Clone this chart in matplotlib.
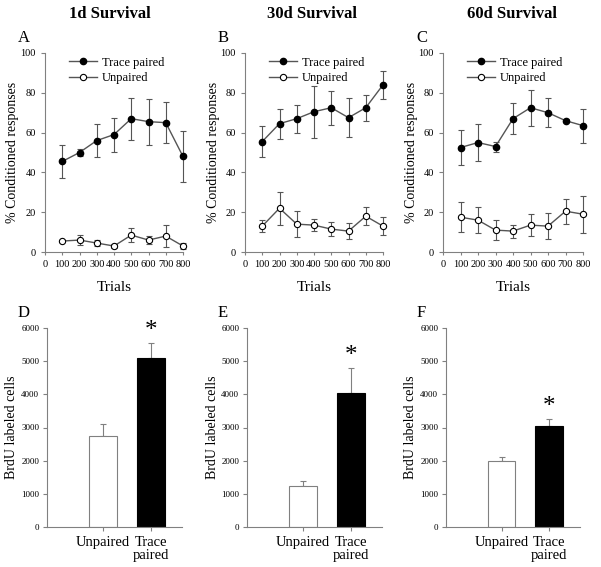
import matplotlib
matplotlib.use('Agg')
import matplotlib.pyplot as plt
from matplotlib.lines import Line2D

plt.rcParams['font.family'] = ['Liberation Serif', 'DejaVu Serif']

# line data: trials and % conditioned responses (mean, sem)
trials = [100, 200, 300, 400, 500, 600, 700, 800]

a_paired = [45.5, 50, 56, 59, 67, 65.5, 65, 48]
a_paired_err = [8.5, 2, 8.2, 8.5, 10.5, 11.5, 10.3, 13]
a_unpaired = [5.5, 6, 4.5, 3, 8.5, 6, 8, 3]
a_unpaired_err = [0.6, 2.5, 1.5, 1, 3.5, 2, 5.5, 1.5]

b_paired = [55.5, 64.5, 67, 70.5, 72.5, 67.5, 72.5, 84]
b_paired_err = [7.8, 7.5, 7, 13, 8.5, 9.8, 6.5, 7]
b_unpaired = [13, 22, 14, 13.5, 11.5, 10.5, 18, 13]
b_unpaired_err = [3, 8.3, 6.5, 3, 3.5, 4, 4.5, 4.5]

c_paired = [52.5, 55, 53, 67, 72.5, 70, 66, 63.5]
c_paired_err = [9, 9.5, 2.5, 7.8, 9, 7.2, 0.6, 8.6]
c_unpaired = [17.5, 16, 11, 10.5, 13.5, 13, 20.5, 19]
c_unpaired_err = [7.5, 6.7, 5, 3.3, 5.5, 6.5, 6.3, 9.3]

# bar data: BrdU labeled cells (mean, sem)
groups = ['Unpaired', 'Trace\npaired']
d_cells = [2750, 5100]
d_err = [370, 460]
e_cells = [1250, 4030]
e_err = [130, 770]
f_cells = [2000, 3040]
f_err = [120, 230]

titles = ['1d Survival', '30d Survival', '60d Survival']
letters_top = ['A', 'B', 'C']
letters_bot = ['D', 'E', 'F']

W, H = 601, 567
fig = plt.figure(figsize=(W / 100, H / 100), dpi=100)

gray = '#808080'
line_col = '#555555'


def box(x0, x1, ytop, ybot):
    return [x0 / W, 1 - ybot / H, (x1 - x0) / W, (ybot - ytop) / H]


def style(ax):
    for s in ['top', 'right']:
        ax.spines[s].set_visible(False)
    for s in ['left', 'bottom']:
        ax.spines[s].set_color(gray)
        ax.spines[s].set_linewidth(0.8)
    ax.tick_params(colors=gray, labelcolor='black', labelsize=7.5, length=3, width=0.8)


top_boxes = [(45, 183), (245, 383), (443, 583)]
line_sets = [
    (a_paired, a_paired_err, a_unpaired, a_unpaired_err),
    (b_paired, b_paired_err, b_unpaired, b_unpaired_err),
    (c_paired, c_paired_err, c_unpaired, c_unpaired_err),
]
title_x = [110, 312, 512]

for i in range(3):
    x0, x1 = top_boxes[i]
    ax = fig.add_axes(box(x0, x1, 53, 252))
    p, pe, u, ue = line_sets[i]
    ax.errorbar(trials, p, yerr=pe, color=line_col, ecolor=line_col, elinewidth=0.8,
                capsize=2.5, capthick=0.8, lw=1, marker='o', ms=4.5, mfc='black', mec='black',
                clip_on=False, zorder=3)
    ax.errorbar(trials, u, yerr=ue, color=line_col, ecolor=line_col, elinewidth=0.8,
                capsize=2.5, capthick=0.8, lw=1, marker='o', ms=4.5, mfc='white', mec='black',
                mew=0.8, clip_on=False, zorder=3)
    ax.set_xlim(0, 800)
    ax.set_ylim(0, 100)
    ax.set_xticks(range(0, 801, 100))
    ax.set_yticks(range(0, 101, 20))
    style(ax)
    ax.tick_params(axis='x', length=2)
    ax.set_xlabel('Trials', fontsize=11, labelpad=9)
    ax.set_ylabel('% Conditioned responses', fontsize=10, va='center')
    ax.yaxis.set_label_coords(-32 / (x1 - x0), 0.5)
    handles = [
        Line2D([], [], color=line_col, lw=1, marker='o', ms=4.5, mfc='black', mec='black'),
        Line2D([], [], color=line_col, lw=1, marker='o', ms=4.5, mfc='white', mec='black', mew=0.8),
    ]
    ax.legend(handles, ['Trace paired', 'Unpaired'], loc='upper left',
              bbox_to_anchor=(0.12, 1.02), frameon=False, fontsize=9,
              handlelength=2.2, handletextpad=0.4, labelspacing=0.3, borderaxespad=0.2)
    fig.text(title_x[i] / W, 1 - 14 / H, titles[i], ha='center', va='center',
             fontsize=12, fontweight='bold')
    fig.text((x0 - 27) / W, 1 - 38 / H, letters_top[i], ha='left', va='center', fontsize=12)

bot_boxes = [(47, 182), (247, 382), (446, 580)]
bar_sets = [(d_cells, d_err), (e_cells, e_err), (f_cells, f_err)]

for i in range(3):
    x0, x1 = bot_boxes[i]
    ax = fig.add_axes(box(x0, x1, 328, 527))
    vals, errs = bar_sets[i]
    pos = [0, 1]
    ax.bar(pos, vals, width=0.58, color=['white', 'black'], edgecolor=[gray, 'black'],
           linewidth=0.8, zorder=2)
    ax.errorbar(pos, vals, yerr=[[0, 0], errs], fmt='none', ecolor=gray, elinewidth=0.8,
                capsize=2.5, capthick=0.8, zorder=1)
    ax.text(1, vals[1] + errs[1] + 20, '*', ha='center', va='bottom', fontsize=18)
    ax.set_xlim(-1.17, 1.65)
    ax.set_ylim(0, 6000)
    ax.set_yticks(range(0, 6001, 1000))
    ax.set_xticks(pos)
    ax.set_xticklabels(groups, fontsize=10.5, linespacing=1.0)
    style(ax)
    ax.tick_params(axis='y', labelsize=6.5, pad=2.5)
    ax.tick_params(axis='x', labelsize=10.5)
    ax.set_ylabel('BrdU labeled cells', fontsize=10, va='center')
    ax.yaxis.set_label_coords(-35 / (x1 - x0), 0.5)
    fig.text((x0 - 29) / W, 1 - 313 / H, letters_bot[i], ha='left', va='center', fontsize=12)

fig.savefig('out.png', dpi=100)
